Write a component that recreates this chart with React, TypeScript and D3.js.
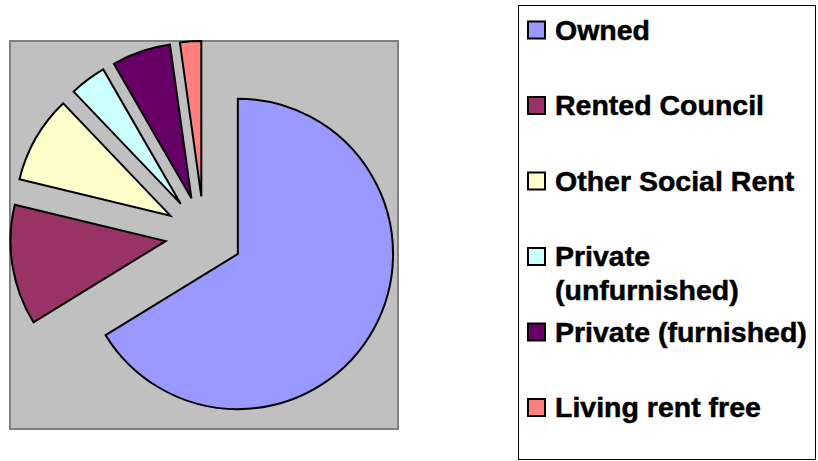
import React, {useEffect, useRef} from 'react'
import {pie, arc, select} from 'd3'

const categories = ['Owned', 'Rented Council', 'Other Social Rent', 'Private (unfurnished)', 'Private (furnished)', 'Living rent free']
const values = [66.1, 12.5, 9.1, 3.8, 6.1, 2.2]
const colors = ['#9999FF', '#993366', '#FFFFCC', '#CCFFFF', '#660066', '#FF8080']
// how the legend wraps each label
const legendLines = [['Owned'], ['Rented Council'], ['Other Social Rent'], ['Private', '(unfurnished)'], ['Private (furnished)'], ['Living rent free']]

type Row = {name: string, value: number}

function App() {
    const width = 818, height = 461
    const plot = {x: 10, y: 41, size: 388}
    const explode = 0.25

    const chart = useRef<SVGSVGElement>(null)

    useEffect(() => {
        const data: Row[] = categories.map((c, i) => ({name: c, value: values[i]}))
        const svg = select(chart.current)
        svg.selectAll('*').remove()

        // plot area
        svg.append('rect')
            .attr('x', plot.x).attr('y', plot.y)
            .attr('width', plot.size).attr('height', plot.size)
            .attr('fill', '#C0C0C0')
            .attr('stroke', '#808080')
            .attr('stroke-width', 2)

        const r = plot.size / 2 / (1 + explode)
        const offset = r * explode

        const pieData = pie<Row>().sort(null).value(d => d.value)(data)
        const arcGen = arc<any>().innerRadius(0).outerRadius(r)

        const g = svg.append('g')
            .attr('transform', `translate(${plot.x + plot.size / 2},${plot.y + plot.size / 2})`)

        g.selectAll('path')
            .data(pieData)
            .join('path')
                .attr('d', arcGen)
                .attr('fill', (d, i) => colors[i])
                .attr('stroke', '#000')
                .attr('stroke-width', 2)
                .attr('stroke-linejoin', 'miter')
                .attr('transform', d => {
                    const a = (d.startAngle + d.endAngle) / 2
                    return `translate(${Math.sin(a) * offset},${-Math.cos(a) * offset})`
                })

        //legend
        const leg = svg.append('g')
        leg.append('rect')
            .attr('x', 518.5).attr('y', 5.5)
            .attr('width', 297).attr('height', 454)
            .attr('fill', '#fff')
            .attr('stroke', '#000')
            .attr('stroke-width', 1)

        const items = leg.selectAll('g.item')
            .data(categories)
            .join('g')
                .attr('class', 'item')
                .attr('transform', (d, i) => `translate(528,${39.5 + i * 75.5})`)

        items.append('rect')
            .attr('x', 0).attr('y', -18)
            .attr('width', 17).attr('height', 17)
            .attr('fill', (d, i) => colors[i])
            .attr('stroke', '#000')
            .attr('stroke-width', 2)

        items.append('text')
            .attr('x', 27)
            .attr('font-family', 'Arial, "Liberation Sans", sans-serif')
            .attr('font-weight', 'bold')
            .attr('font-size', 28.5)
            .attr('fill', '#000')
            .attr('stroke', '#000')
            .attr('stroke-width', 0.5)
            .selectAll('tspan')
            .data((d, i) => legendLines[i])
            .join('tspan')
                .attr('x', 27)
                .attr('dy', (d, j) => j === 0 ? 0 : 34)
                .text(d => d)
    }, [])

    return (
        <svg ref={chart} width={width} height={height} style={{position: 'absolute', left: 0, top: 0, background: '#fff'}}></svg>
    )
}

export default App
